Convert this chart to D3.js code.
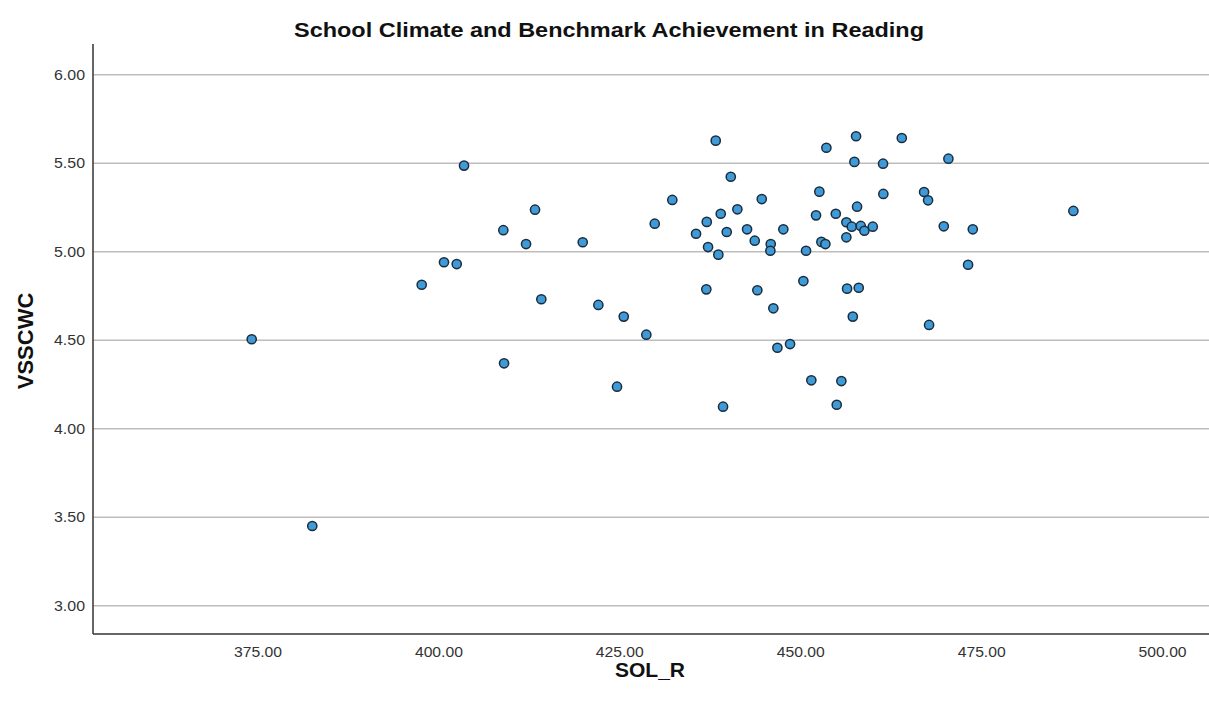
<!DOCTYPE html>
<html>
<head>
<meta charset="utf-8">
<script src="https://cdn.jsdelivr.net/npm/d3@7"></script>
<style>
  html, body { margin: 0; padding: 0; background: #fff; }
  svg { display: block; font-family: "Liberation Sans", Arial, sans-serif; }
</style>
</head>
<body>
<svg id="chart" width="1209" height="706"></svg>
<script>
// School-level reading scores (SOL_R) and climate scale scores (VSSCWC)
const solR = [
  374.20, 382.57, 403.54, 413.35, 408.97, 412.11, 419.94, 400.77, 402.53, 397.69,
  414.22, 422.10, 425.61, 429.89, 432.32, 438.32, 453.61, 457.71, 464.03, 457.48,
  461.44, 440.40, 444.68, 452.64, 461.48, 437.08, 439.01, 441.31, 435.60, 439.84,
  442.65, 447.66, 452.18, 454.91, 457.85, 456.37, 457.12, 458.36, 458.86, 460.02,
  456.37, 437.26, 438.68, 443.71, 445.92, 445.87, 450.80, 452.92, 453.47, 437.02,
  444.07, 450.43, 456.47, 458.08, 446.28, 457.26, 428.73, 409.07, 424.68, 439.33,
  446.84, 448.59, 451.53, 455.68, 455.04, 470.47, 467.11, 467.66, 487.74, 469.83,
  473.84, 473.19, 467.80
];
const vsscwc = [
  4.503, 3.448, 5.484, 5.235, 5.119, 5.041, 5.051, 4.938, 4.928, 4.811,
  4.729, 4.697, 4.631, 5.156, 5.290, 5.625, 5.585, 5.650, 5.640, 5.505,
  5.495, 5.421, 5.295, 5.337, 5.324, 5.166, 5.212, 5.237, 5.099, 5.109,
  5.124, 5.124, 5.203, 5.212, 5.252, 5.164, 5.139, 5.143, 5.116, 5.139,
  5.079, 5.024, 4.981, 5.060, 5.041, 5.003, 5.003, 5.053, 5.041, 4.785,
  4.780, 4.832, 4.789, 4.794, 4.678, 4.631, 4.529, 4.367, 4.235, 4.122,
  4.455, 4.476, 4.271, 4.267, 4.133, 5.523, 5.335, 5.288, 5.228, 5.141,
  5.124, 4.924, 4.584
];
const xTicks = [375, 400, 425, 450, 475, 500];
const yTicks = [3.0, 3.5, 4.0, 4.5, 5.0, 5.5, 6.0];

const title = "School Climate and Benchmark Achievement in Reading";
const xTitle = "SOL_R";
const yTitle = "VSSCWC";

const svg = d3.select("#chart");
const plot = { left: 93, top: 44, right: 1209, bottom: 634 };

const x = d3.scaleLinear().domain([352.27, 506.48]).range([plot.left, plot.right]);
const y = d3.scaleLinear().domain([2.838, 6.171]).range([plot.bottom, plot.top]);

const fmt = d3.format(".2f");

// horizontal reference lines with value labels
const yAxis = d3.axisLeft(y).tickValues(yTicks).tickFormat(fmt)
  .tickSize(-(plot.right - plot.left)).tickPadding(8);
const gy = svg.append("g").attr("transform", `translate(${plot.left},0)`).call(yAxis);
gy.select(".domain").remove();
gy.selectAll(".tick line").attr("stroke", "#bdbdbd").attr("stroke-width", 1.5);
gy.selectAll(".tick text").attr("font-size", 15).attr("fill", "#333")
  .attr("font-family", "'Liberation Sans', Arial, sans-serif")
  .attr("textLength", 31).attr("lengthAdjust", "spacingAndGlyphs");

const xAxis = d3.axisBottom(x).tickValues(xTicks).tickFormat(fmt)
  .tickSize(0).tickPadding(12);
const gx = svg.append("g").attr("transform", `translate(0,${plot.bottom})`).call(xAxis);
gx.select(".domain").remove();
gx.selectAll(".tick text").attr("font-size", 15).attr("fill", "#333")
  .attr("font-family", "'Liberation Sans', Arial, sans-serif")
  .attr("textLength", 48).attr("lengthAdjust", "spacingAndGlyphs");

// axis frame lines
svg.append("line").attr("x1", plot.left).attr("x2", plot.left)
  .attr("y1", plot.top).attr("y2", plot.bottom)
  .attr("stroke", "#333").attr("stroke-width", 1.5);
svg.append("line").attr("x1", plot.left).attr("x2", plot.right)
  .attr("y1", plot.bottom).attr("y2", plot.bottom)
  .attr("stroke", "#333").attr("stroke-width", 1.5);

// points
svg.append("g").selectAll("circle")
  .data(solR.map((v, i) => [v, vsscwc[i]]))
  .join("circle")
  .attr("cx", d => x(d[0]))
  .attr("cy", d => y(d[1]))
  .attr("r", 4.6)
  .attr("fill", "#3f9bd8")
  .attr("stroke", "#1c2c3c")
  .attr("stroke-width", 1.5);

// titles
svg.append("text").attr("x", 609).attr("y", 37).attr("text-anchor", "middle")
  .attr("font-size", 21).attr("font-weight", "bold").attr("fill", "#111")
  .attr("textLength", 630).attr("lengthAdjust", "spacingAndGlyphs")
  .text(title);
svg.append("text").attr("x", 650).attr("y", 677).attr("text-anchor", "middle")
  .attr("font-size", 21).attr("font-weight", "bold").attr("fill", "#111")
  .text(xTitle);
svg.append("text").attr("transform", "translate(33,341) rotate(-90)")
  .attr("text-anchor", "middle")
  .attr("font-size", 22).attr("font-weight", "bold").attr("fill", "#111")
  .text(yTitle);
</script>
</body>
</html>
